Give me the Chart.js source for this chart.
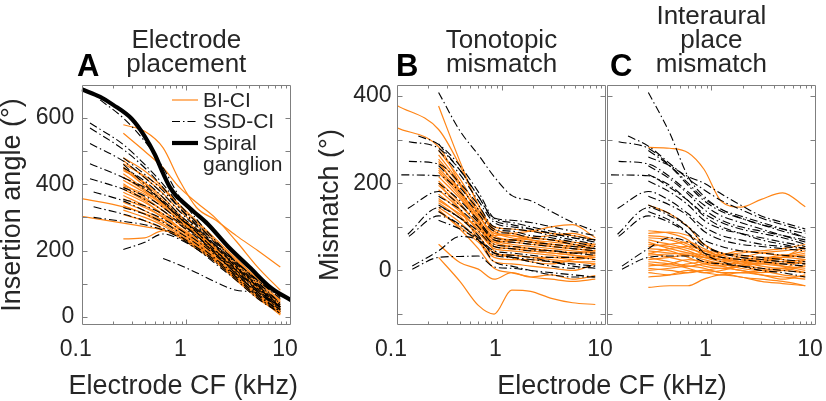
<!DOCTYPE html>
<html><head><meta charset="utf-8">
<script src="https://cdn.jsdelivr.net/npm/chart.js@4"></script>
<style>
html,body{margin:0;padding:0;background:#fff;}
body{width:826px;height:401px;position:relative;overflow:hidden;}
canvas{position:absolute;top:0;}
</style></head><body>
<canvas id="ca" width="340" height="401" style="left:0px"></canvas>
<canvas id="cb" width="340" height="401" style="left:296px"></canvas>
<canvas id="cc" width="418" height="401" style="left:408px"></canvas>
<script>
// ---------- DATA ----------
const xTickValues = [0.1, 1, 10];
const xTickLabels = ['0.1', '1', '10'];
const xTickLabelsC = ['', '1', '10'];

// electrode CF grid (kHz) shared by the lines
const cfGrid = [0.25, 0.4, 0.6, 0.85, 1.25, 1.9, 3, 4.8, 7.9];
// optional first (most apical) electrode CF for each line
const biFirstCF = [0.1, 0.1];
const ssdFirstCF_A = [0.15, 0.12, 0.12, 0.12, 0.12, 0.12, 0.13, 0.13, 0.13];
const ssdFirstCF_BC = [null, 0.13, 0.16, 0.13, 0.11, 0.127, 0.127, 0.13, 0.14, 0.14];

// spiral ganglion
const sgCF = [0.1, 0.15, 0.2, 0.3, 0.4, 0.5, 0.6, 0.7, 0.8, 0.9, 1.2, 1.6, 2.5, 4, 6.5, 10];
const sgAngle = [687, 664, 640, 598, 545, 490, 433, 390, 365, 350, 315, 280, 212, 150, 86, 50];

// Panel A: insertion angle (deg). values: [first, ...cfGrid]
const placeBI = [
  [357, 332, 312, 288, 258, 222, 178, 122, 68, 18],
  [303, 283, 272, 262, 245, 212, 168, 112, 60, 10],
  [null, 580, 560, 510, 415, 330, 292, 245, 200, 150],
  [null, 554, 500, 450, 392, 345, 298, 228, 150, 80],
  [null, 480, 440, 390, 340, 290, 235, 175, 115, 60],
  [null, 472, 420, 372, 322, 275, 225, 165, 105, 45],
  [null, 462, 425, 385, 335, 285, 230, 170, 110, 50],
  [null, 452, 402, 352, 305, 265, 215, 160, 100, 35],
  [null, 442, 405, 360, 310, 260, 205, 150, 95, 30],
  [null, 432, 385, 340, 300, 260, 210, 155, 95, 40],
  [null, 422, 380, 335, 290, 250, 200, 145, 90, 25],
  [null, 412, 375, 340, 300, 255, 200, 140, 80, 20],
  [null, 402, 360, 320, 285, 245, 195, 145, 85, 30],
  [null, 392, 355, 320, 280, 235, 190, 135, 80, 15],
  [null, 385, 350, 305, 270, 235, 190, 140, 85, 30],
  [null, 376, 345, 310, 270, 230, 185, 130, 70, 10],
  [null, 366, 335, 300, 265, 225, 180, 125, 75, 20],
  [null, 356, 330, 300, 265, 230, 185, 135, 80, 25],
  [null, 346, 320, 290, 255, 220, 175, 120, 65, 10],
  [null, 336, 310, 280, 250, 215, 175, 125, 70, 15],
  [null, 322, 300, 275, 245, 210, 170, 115, 60, 5],
  [null, 308, 290, 265, 240, 205, 165, 110, 55, 10],
  [null, 235, 238, 260, 245, 215, 170, 120, 60, 15],
  [null, 396, 370, 330, 295, 250, 205, 150, 90, 50],
  [null, 447, 395, 345, 300, 250, 195, 140, 80, 20]
];
const placeSSD = [
  [655, 600, 530, 450, 365, 295, 230, 165, 110, 55],
  [585, 520, 460, 400, 340, 285, 220, 160, 100, 40],
  [570, 505, 450, 390, 330, 275, 215, 150, 95, 30],
  [523, 470, 420, 370, 320, 270, 215, 155, 95, 35],
  [462, 420, 385, 345, 300, 255, 200, 145, 90, 30],
  [417, 385, 355, 320, 285, 245, 195, 140, 85, 25],
  [377, 350, 320, 295, 265, 230, 185, 130, 75, 20],
  [332, 310, 290, 268, 245, 210, 170, 120, 65, 15],
  [300, 288, 278, 262, 240, 205, 160, 110, 55, 10],
  [null, 203, 225, 250, 235, 205, 165, 115, 60, 10],
  [null, null, null, 176, 157, 133, 105, 80, 72, 30],
  [null, 480, 430, 380, 330, 280, 225, 165, 105, 40],
  [null, 450, 410, 360, 310, 265, 210, 150, 90, 25],
  [null, 420, 390, 350, 305, 255, 200, 140, 80, 20],
  [null, 390, 365, 330, 290, 245, 190, 130, 70, 15],
  [null, 355, 335, 310, 280, 240, 190, 135, 80, 30],
  [null, 460, 400, 345, 300, 260, 215, 165, 110, 60],
  [null, 330, 310, 285, 255, 220, 175, 125, 75, 25]
];

// Panel B: tonotopic mismatch (deg)
const tonoBI = [
  [378, 323, 240, 150, 90, 75, 70, 60, 55, 50],
  [327, 283, 200, 130, 80, 70, 65, 55, 50, 45],
  [null, 377, 250, 150, 95, 85, 75, 70, 60, 55],
  [null, 275, 210, 140, 90, 80, 75, 70, 65, 60],
  [null, 265, 200, 130, 75, 70, 65, 60, 55, 50],
  [null, 255, 195, 135, 100, 95, 90, 85, 80, 70],
  [null, 245, 185, 120, 70, 65, 60, 55, 50, 45],
  [null, 235, 180, 125, 85, 80, 70, 65, 60, 55],
  [null, 225, 170, 110, 60, 55, 50, 45, 40, 40],
  [null, 215, 165, 115, 75, 70, 65, 60, 55, 60],
  [null, 205, 155, 100, 55, 50, 45, 40, 35, 30],
  [null, 195, 150, 105, 70, 60, 55, 50, 45, 40],
  [null, 185, 140, 90, 50, 45, 40, 35, 30, 35],
  [null, 175, 135, 95, 65, 55, 50, 45, 40, 45],
  [null, 165, 125, 80, 40, 35, 30, 30, 25, 30],
  [null, 155, 120, 85, 55, 50, 45, 40, 35, 25],
  [null, 145, 110, 70, 30, 25, 25, 20, 20, 20],
  [null, 135, 100, 65, 35, 35, 30, 25, 20, 15],
  [null, 160, 130, 100, 80, 85, 90, 100, 105, 75],
  [null, 230, 175, 115, 65, 70, 75, 80, 85, 70],
  [null, 60, 18, 3, -20, -5, -15, -10, -20, -12],
  [null, 30, -25, -80, -100, -45, -48, -64, -74, -78],
  [null, 200, 140, 70, 20, 15, 10, 5, 0, 15],
  [null, 250, 180, 110, 45, 30, 20, 15, 25, 35],
  [null, 140, 95, 50, 5, -5, -15, -20, -25, -20]
];
const tonoSSD = [
  [null, 408, 320, 265, 215, 172, 160, 135, 110, 90],
  [295, 280, 230, 170, 115, 105, 95, 85, 75, 65],
  [308, 289, 240, 180, 120, 110, 100, 90, 80, 70],
  [250, 244, 200, 150, 100, 95, 90, 80, 70, 60],
  [219, 217, 180, 130, 90, 85, 75, 70, 60, 50],
  [142, 181, 150, 110, 70, 65, 60, 55, 50, 45],
  [83, 144, 120, 90, 55, 50, 45, 45, 40, 35],
  [78, 125, 105, 75, 45, 40, 35, 30, 30, 25],
  [3, 30, 32, 33, 8, 5, 0, -5, -10, -15],
  [10, 45, 78, 70, 40, 35, 30, 20, 15, 10],
  [null, 275, 220, 160, 110, 100, 95, 85, 75, 70],
  [null, 240, 190, 140, 95, 90, 80, 75, 65, 55],
  [null, 200, 160, 115, 75, 70, 65, 60, 55, 50],
  [null, 170, 140, 100, 60, 55, 50, 45, 40, 40],
  [null, 150, 120, 80, 35, 30, 25, 20, 10, 5],
  [null, 135, 105, 70, 20, 10, 0, -10, -15, -15],
  [null, 115, 95, 70, 40, 30, 20, 10, 5, 10],
  [null, 290, 230, 170, 120, 115, 110, 100, 90, 80]
];

// Panel C: interaural place mismatch (deg)
const interBI = [
  [null, 282, 280, 270, 232, 158, 145, 163, 178, 146],
  [null, 150, 130, 100, 60, 40, 35, 30, 30, 25],
  [null, 91, 85, 70, 40, 30, 20, 25, 30, 40],
  [null, 85, 88, 80, 60, 35, 25, 20, 30, 55],
  [null, 75, 70, 55, 35, 25, 30, 40, 45, 50],
  [null, 70, 60, 50, 40, 30, 25, 20, 15, 20],
  [null, 60, 55, 45, 30, 20, 15, 25, 35, 30],
  [null, 55, 60, 65, 50, 30, 20, 15, 10, 5],
  [null, 50, 45, 30, 15, 10, 20, 30, 25, 15],
  [null, 45, 40, 35, 30, 25, 20, 10, 5, 10],
  [null, 40, 30, 20, 10, 5, 10, 20, 30, 35],
  [null, 35, 38, 40, 35, 25, 15, 5, 0, -5],
  [null, 30, 20, 10, 15, 20, 25, 20, 10, 0],
  [null, 25, 30, 35, 25, 15, 5, 0, 5, 25],
  [null, 20, 15, 5, -5, 0, 10, 15, 20, 15],
  [null, 15, 10, 15, 20, 15, 10, 0, -10, -15],
  [null, 10, 15, 25, 20, 10, 0, -5, 0, 10],
  [null, 5, 0, -5, 0, 5, 0, -10, -15, -20],
  [null, 0, 5, 10, 5, -5, -5, 0, 5, -5],
  [null, -5, -10, -5, 0, -5, -15, -20, -25, -35],
  [null, -15, -10, 0, -5, -10, -5, -10, -20, -10],
  [null, -39, -35, -35, -20, -10, -15, -25, -30, -35],
  [null, 80, 75, 60, 45, 35, 40, 45, 50, 60],
  [null, 65, 50, 40, 30, 35, 45, 40, 35, 45],
  [null, 38, 50, 55, 45, 40, 30, 25, 20, 25]
];
const interSSD = [
  [null, 408, 315, 215, 170, 140, 125, 110, 95, 75],
  [295, 280, 240, 195, 160, 135, 120, 105, 90, 75],
  [308, 285, 245, 210, 185, 160, 140, 120, 105, 90],
  [250, 244, 215, 180, 150, 125, 110, 95, 80, 65],
  [219, 217, 190, 160, 130, 110, 95, 85, 75, 60],
  [142, 181, 160, 130, 100, 80, 70, 60, 55, 50],
  [83, 144, 125, 100, 70, 55, 45, 40, 35, 30],
  [78, 125, 110, 85, 55, 40, 35, 30, 25, 20],
  [3, 30, 33, 33, 20, 15, 10, 5, 0, -5],
  [10, 50, 75, 65, 40, 30, 25, 20, 15, 10],
  [null, 275, 240, 200, 165, 140, 120, 105, 95, 85],
  [null, 240, 210, 175, 140, 115, 100, 90, 80, 70],
  [null, 205, 180, 150, 115, 95, 85, 75, 65, 55],
  [null, 170, 150, 125, 90, 70, 60, 55, 50, 45],
  [null, 150, 130, 100, 60, 40, 30, 25, 20, 15],
  [null, 135, 115, 85, 40, 20, 10, 0, -5, -15],
  [null, 260, 240, 215, 200, 175, 150, 125, 110, 95],
  [null, 220, 195, 160, 125, 100, 85, 70, 60, 50]
];

// ---------- STYLE ----------
const ORANGE = '#FF8516';
const TEXT = '#262626';
const BOXC = '#7f7f7f';
const FONT = "'Liberation Sans', Arial, Helvetica, sans-serif";
Chart.defaults.font.family = FONT;
Chart.defaults.color = TEXT;
Chart.defaults.animation = false;

function pts(firstCF, vals) {
  const out = [];
  vals.forEach((v, i) => {
    if (v === null) return;
    const cf = i === 0 ? firstCF : cfGrid[i - 1];
    if (cf === null || cf === undefined) return;
    out.push({x: cf, y: v});
  });
  return out;
}
function biSet(vals, i) {
  return {label: 'BI-CI', data: pts(biFirstCF[i] ?? null, vals), borderColor: ORANGE, borderWidth: 1.2,
    pointRadius: 0, fill: false, cubicInterpolationMode: 'monotone'};
}
function ssdSet(firsts) {
  return (vals, i) => ({label: 'SSD-CI', data: pts(firsts[i] ?? null, vals), borderColor: '#000', borderWidth: 1.1,
    borderDash: [8, 3, 1.5, 3], pointRadius: 0, fill: false, cubicInterpolationMode: 'monotone'});
}
const sgSet = {label: 'Spiral ganglion', data: sgCF.map((c, i) => ({x: c, y: sgAngle[i]})),
  borderColor: '#000', borderWidth: 4.2, pointRadius: 0, fill: false, cubicInterpolationMode: 'monotone'};

// inward ticks, box, panel letter, legend
const framePlugin = {
  id: 'frame',
  afterDatasetsDraw(chart, args, o) {
    const {ctx, chartArea: a} = chart;
    const x = chart.scales.x, y = chart.scales.y;
    const L = Math.round(a.left) + 0.5, R = Math.round(a.right) - 0.5;
    const T = Math.round(a.top) + 0.5, B = Math.round(a.bottom) - 0.5;
    ctx.save();
    ctx.strokeStyle = BOXC; ctx.lineWidth = 1; ctx.setLineDash([]);
    ctx.beginPath();
    ctx.rect(L, T, R - L, B - T);
    for (const t of y.ticks) {
      const py = Math.round(y.getPixelForValue(t.value)) + 0.5;
      if (py < T + 1 || py > B - 1) continue;
      ctx.moveTo(L, py); ctx.lineTo(L + 5, py);
      ctx.moveTo(R, py); ctx.lineTo(R - 5, py);
    }
    for (let d = x.min; d < x.max * 0.999; d *= 10) {
      for (let k = 1; k <= 9; k++) {
        const v = d * k;
        const px = Math.round(x.getPixelForValue(v)) + 0.5;
        if (px < L + 1 || px > R - 1) continue;
        const len = k === 1 ? 5 : 3;
        ctx.moveTo(px, B); ctx.lineTo(px, B - len);
        ctx.moveTo(px, T); ctx.lineTo(px, T + len);
      }
    }
    ctx.stroke();
    // panel letter
    ctx.fillStyle = '#000';
    ctx.font = 'bold 31px ' + FONT;
    ctx.textAlign = 'left'; ctx.textBaseline = 'alphabetic';
    ctx.fillText(o.letter, o.letterX, 76);
    // legend
    if (o.legend) {
      const ds = chart.data.datasets;
      const items = [
        {d: ds.find(s => s.label === 'BI-CI'), text: ['BI-CI'], y: 100},
        {d: ds.find(s => s.label === 'SSD-CI'), text: ['SSD-CI'], y: 121.5},
        {d: ds.find(s => s.label === 'Spiral ganglion'), text: ['Spiral', 'ganglion'], y: 143}
      ];
      ctx.font = '21px ' + FONT;
      ctx.textBaseline = 'middle';
      for (const it of items) {
        ctx.strokeStyle = it.d.borderColor;
        ctx.lineWidth = it.d.borderWidth;
        ctx.setLineDash(it.d.borderDash || []);
        ctx.beginPath(); ctx.moveTo(172, it.y); ctx.lineTo(198, it.y); ctx.stroke();
        ctx.setLineDash([]);
        ctx.fillStyle = TEXT;
        it.text.forEach((t, j) => ctx.fillText(t, 203, it.y + 1 + j * 21));
      }
    }
    ctx.restore();
  }
};

function xAxis(labels, height) {
  return {
    type: 'logarithmic', min: 0.1, max: 10,
    afterBuildTicks(s) { s.ticks = xTickValues.map(v => ({value: v})); },
    afterFit(s) { s.height = height; s.paddingLeft = 0; s.paddingRight = 0; },
    grid: {display: false, drawTicks: false}, border: {display: false},
    ticks: {padding: 11, labelOffset: -6, autoSkip: false, maxRotation: 0, minRotation: 0,
      font: {size: 23}, color: TEXT, callback: (v, i) => labels[i]},
    title: {display: false}
  };
}
function yAxis(min, max, width, pad, showLabels, title, titlePad) {
  return {
    type: 'linear', min, max,
    afterFit(s) { s.width = width; s.paddingTop = 0; s.paddingBottom = 0; },
    grid: {display: false, drawTicks: false}, border: {display: false},
    ticks: {stepSize: 100, includeBounds: false, autoSkip: false, padding: pad, font: {size: 23}, color: TEXT,
      callback: v => (showLabels && v % 200 === 0) ? String(v) : ''},
    title: title ? {display: true, text: title, color: TEXT, font: {size: 27, lineHeight: '27px'},
      padding: {top: titlePad, bottom: 0}} : {display: false}
  };
}
// empty spacer axis on the right (reserves room so the bottom title box ends where the text should end)
function spacerAxis(width) {
  return {type: 'linear', position: 'right', display: true,
    afterFit(s) { s.width = width; s.paddingTop = 0; s.paddingBottom = 0; },
    grid: {display: false, drawTicks: false}, border: {display: false}, ticks: {display: false}};
}
function titleOpt(lines, padTop) {
  return {display: true, text: lines, fullSize: false, color: TEXT,
    font: {size: 26, weight: 'normal', lineHeight: '24px'}, padding: {top: padTop, bottom: 8}};
}
function xTitleOpt(align) {
  return {display: true, text: 'Electrode CF (kHz)', position: 'bottom', fullSize: true, align, color: TEXT,
    font: {size: 27, weight: 'normal', lineHeight: '27px'}, padding: {top: 0, bottom: 1}};
}

// Panel A  (canvas 0..340; bottom title box 0..298, chart area 81.7..291)
new Chart(document.getElementById('ca'), {
  type: 'line',
  data: {datasets: [sgSet, ...placeSSD.map(ssdSet(ssdFirstCF_A)), ...placeBI.map(biSet)]},
  options: {
    responsive: false, devicePixelRatio: 1,
    layout: {padding: {left: 0, right: 42, top: 0, bottom: 0}},
    plugins: {legend: {display: false}, tooltip: {enabled: false},
      title: titleOpt(['Electrode', 'placement'], 29),
      subtitle: xTitleOpt('end'),
      frame: {letter: 'A', letterX: 77, legend: true}},
    scales: {x: xAxis(xTickLabels, 48),
      y: yAxis(-25, 700, 81.7, 7.5, true, 'Insertion angle (°)', -1),
      y2: spacerAxis(7)}
  },
  plugins: [framePlugin]
});

// Panel B
new Chart(document.getElementById('cb'), {
  type: 'line',
  data: {datasets: [...tonoSSD.map(ssdSet(ssdFirstCF_BC)), ...tonoBI.map(biSet)]},
  options: {
    responsive: false, devicePixelRatio: 1,
    layout: {padding: {left: 0, right: 30, top: 0, bottom: 0}},
    plugins: {legend: {display: false}, tooltip: {enabled: false},
      title: titleOpt(['Tonotopic', 'mismatch'], 29),
      frame: {letter: 'B', letterX: 100, legend: false}},
    scales: {x: xAxis(xTickLabels, 76),
      y: yAxis(-125, 425, 101, 5.5, true, 'Mismatch (°)', 21.5)}
  },
  plugins: [framePlugin]
});

// Panel C (canvas 408..826; bottom title box 408..816)
new Chart(document.getElementById('cc'), {
  type: 'line',
  data: {datasets: [...interSSD.map(ssdSet(ssdFirstCF_BC)), ...interBI.map(biSet)]},
  options: {
    responsive: false, devicePixelRatio: 1,
    layout: {padding: {left: 0, right: 10, top: 0, bottom: 0}},
    plugins: {legend: {display: false}, tooltip: {enabled: false},
      title: titleOpt(['Interaural', 'place', 'mismatch'], 5),
      subtitle: xTitleOpt('center'),
      frame: {letter: 'C', letterX: 202, legend: false}},
    scales: {x: xAxis(xTickLabelsC, 48),
      y: yAxis(-125, 425, 198.7, 5, false, null, 0)}
  },
  plugins: [framePlugin]
});
</script>
</body></html>
